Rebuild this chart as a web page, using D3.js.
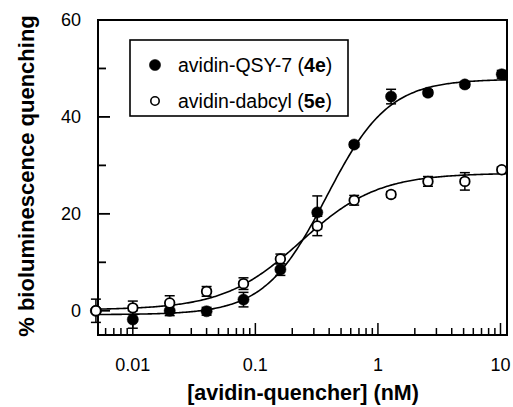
<!DOCTYPE html>
<html>
<head>
<meta charset="utf-8">
<script src="https://cdn.jsdelivr.net/npm/d3@7.9.0/dist/d3.min.js"></script>
<style>
  html, body { margin: 0; padding: 0; background: #fff; }
  svg { display: block; font-family: "Liberation Sans", Arial, Helvetica, sans-serif; }
</style>
</head>
<body>
<svg id="chart" width="513" height="407"></svg>
<script>
// concentrations (nM), serial 2-fold dilution
const conc = [0.005, 0.01, 0.02, 0.04, 0.08, 0.16, 0.32, 0.64, 1.28, 2.56, 5.12, 10.24];

// avidin-QSY-7 (4e) - filled circles
const qsyValues = [0, -1.8, 0, -0.1, 2.3, 8.5, 20.3, 34.3, 44.2, 45.0, 46.7, 48.8];
const qsyErrors = [0, 1.8, 1.0, 0.8, 1.5, 1.2, 3.4, 0.5, 1.5, 0.6, 0.6, 0.8];

// avidin-dabcyl (5e) - open circles
const dabValues = [0, 0.6, 1.6, 4.0, 5.6, 10.7, 17.5, 22.8, 24.0, 26.7, 26.7, 29.1];
const dabErrors = [2.4, 1.4, 1.5, 1.0, 1.2, 1.0, 2.0, 1.0, 0.6, 1.0, 1.8, 0.6];

// fitted sigmoid params: [bottom, top, EC50, hill]
const qsyFit = [-0.8, 47.8, 0.38, 1.72];
const dabFit = [0.2, 28.4, 0.235, 1.38];

const yTicks = [0, 20, 40, 60];
const yMinorTicks = [10, 30, 50];
const xTicks = [0.01, 0.1, 1, 10];
const xTickLabels = ['0.01', '0.1', '1', '10'];

const svg = d3.select('#chart');
const mLeft = 98, mRight = 507, mTop = 20, mBottom = 335;

const x = d3.scaleLog().domain([0.0052, 11.3]).range([mLeft, mRight]);
const y = d3.scaleLinear().domain([-5, 60]).range([mBottom, mTop]);

// frame
svg.append('rect')
  .attr('x', mLeft).attr('y', mTop)
  .attr('width', mRight - mLeft).attr('height', mBottom - mTop)
  .attr('fill', 'none').attr('stroke', '#000').attr('stroke-width', 2);

// y ticks (inside)
yTicks.forEach((t) => {
  svg.append('line')
    .attr('x1', mLeft).attr('x2', mLeft + 12)
    .attr('y1', y(t)).attr('y2', y(t))
    .attr('stroke', '#000').attr('stroke-width', 1.8);
  svg.append('text')
    .attr('x', 81).attr('y', y(t)).attr('dy', '0.36em')
    .attr('text-anchor', 'end')
    .attr('font-size', 18)
    .text(t);
});
yMinorTicks.forEach((t) => {
  svg.append('line')
    .attr('x1', mLeft).attr('x2', mLeft + 8)
    .attr('y1', y(t)).attr('y2', y(t))
    .attr('stroke', '#000').attr('stroke-width', 1.8);
});

// x ticks (log, inside)
let minor = [];
for (let p = -3; p <= 1; p++) {
  for (let m = 1; m <= 9; m++) {
    let v = m * Math.pow(10, p);
    if (v >= x.domain()[0] && v <= x.domain()[1]) minor.push(v);
  }
}
minor.forEach((v) => {
  let isMajor = xTicks.some((t) => Math.abs(t - v) / t < 1e-6);
  svg.append('line')
    .attr('x1', x(v)).attr('x2', x(v))
    .attr('y1', mBottom).attr('y2', mBottom - (isMajor ? 12 : 7))
    .attr('stroke', '#000').attr('stroke-width', 1.5);
});
xTicks.forEach((t, i) => {
  svg.append('text')
    .attr('x', x(t)).attr('y', 371)
    .attr('text-anchor', 'middle')
    .attr('font-size', 18)
    .text(xTickLabels[i]);
});

// axis titles
svg.append('text')
  .attr('x', 303).attr('y', 400)
  .attr('text-anchor', 'middle')
  .attr('font-size', 21.5).attr('font-weight', 'bold')
  .text('[avidin-quencher] (nM)');

svg.append('text')
  .attr('transform', 'translate(34,176) rotate(-90)')
  .attr('text-anchor', 'middle')
  .attr('font-size', 22).attr('font-weight', 'bold')
  .text('% bioluminescence quenching');

// fitted curves
function hill(p, c) {
  return p[0] + (p[1] - p[0]) / (1 + Math.pow(p[2] / c, p[3]));
}
const curveX = d3.range(0, 301).map((i) => {
  let [a, b] = x.domain().map(Math.log10);
  return Math.pow(10, a + (b - a) * i / 300);
});
const line = d3.line().x((d) => x(d[0])).y((d) => y(d[1]));

[qsyFit, dabFit].forEach((p) => {
  svg.append('path')
    .attr('d', line(curveX.map((c) => [c, hill(p, c)])))
    .attr('fill', 'none').attr('stroke', '#000').attr('stroke-width', 1.6);
});

// error bars + markers
function drawSeries(values, errors, filled) {
  let g = svg.append('g');
  values.forEach((v, i) => {
    let cx = x(conc[i]);
    let e = errors[i];
    if (e > 0) {
      g.append('line')
        .attr('x1', cx).attr('x2', cx)
        .attr('y1', y(v - e)).attr('y2', y(v + e))
        .attr('stroke', '#000').attr('stroke-width', 1.5);
      [v - e, v + e].forEach((w) => {
        g.append('line')
          .attr('x1', cx - 5).attr('x2', cx + 5)
          .attr('y1', y(w)).attr('y2', y(w))
          .attr('stroke', '#000').attr('stroke-width', 1.5);
      });
    }
    g.append('circle')
      .attr('cx', cx).attr('cy', y(v))
      .attr('r', filled ? 5.6 : 4.8)
      .attr('fill', filled ? '#000' : '#fff')
      .attr('stroke', '#000')
      .attr('stroke-width', filled ? 0.5 : 1.8);
  });
}
drawSeries(qsyValues, qsyErrors, true);
drawSeries(dabValues, dabErrors, false);

// legend
const legend = svg.append('g');
legend.append('rect')
  .attr('x', 130).attr('y', 40).attr('width', 218).attr('height', 76)
  .attr('fill', '#fff').attr('stroke', '#000').attr('stroke-width', 1.6);

const legendItems = [
  { label: 'avidin-QSY-7 (', bold: '4e', filled: true, yy: 65 },
  { label: 'avidin-dabcyl (', bold: '5e', filled: false, yy: 101 }
];
legendItems.forEach((d) => {
  legend.append('circle')
    .attr('cx', 155).attr('cy', d.yy)
    .attr('r', d.filled ? 5.6 : 4.2)
    .attr('fill', d.filled ? '#000' : '#fff')
    .attr('stroke', '#000').attr('stroke-width', d.filled ? 0.5 : 1.6);
  let t = legend.append('text')
    .attr('x', 178).attr('y', d.yy).attr('dy', '0.36em')
    .attr('font-size', 19.5);
  t.append('tspan').text(d.label);
  t.append('tspan').attr('font-weight', 'bold').text(d.bold);
  t.append('tspan').text(')');
});
</script>
</body>
</html>
